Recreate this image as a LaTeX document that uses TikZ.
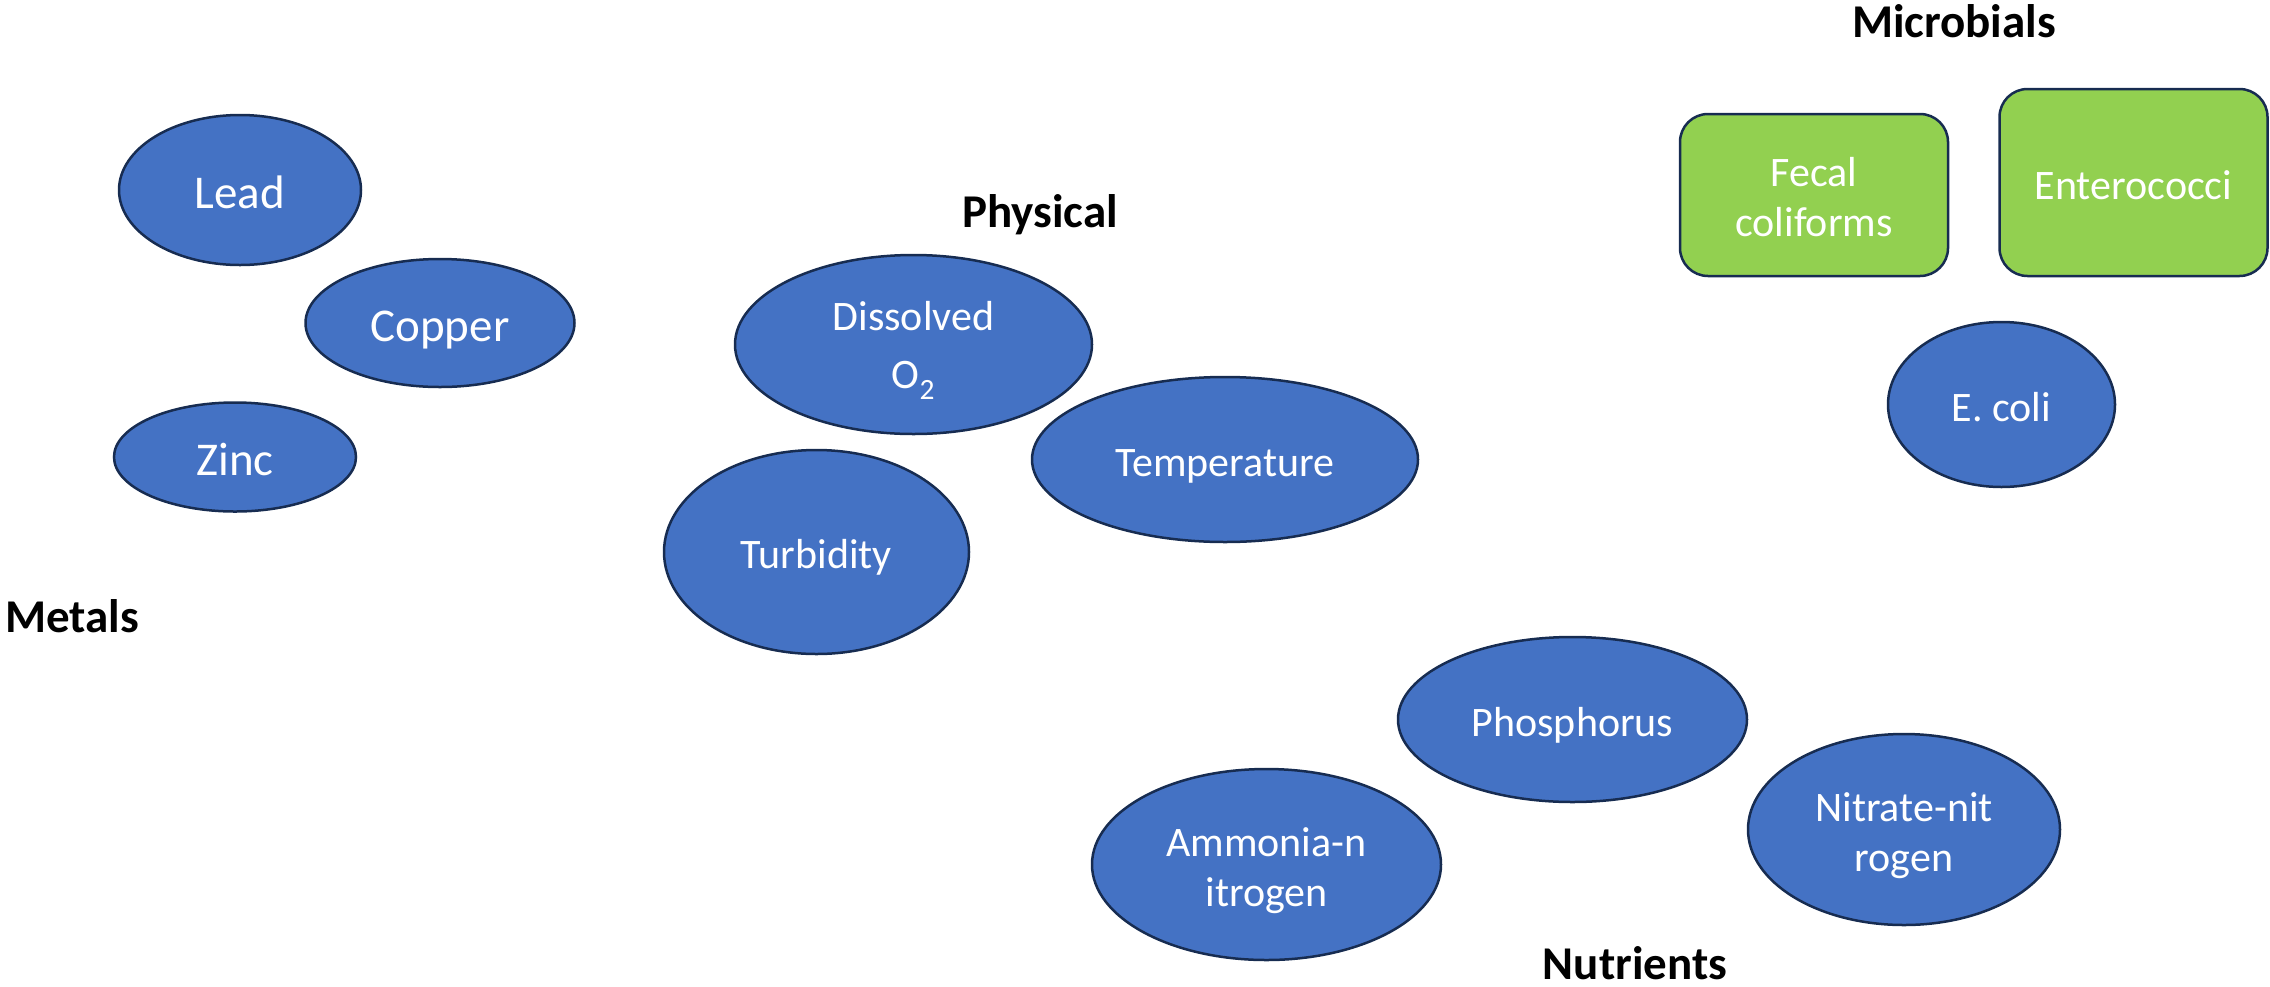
\documentclass[tikz,border=0pt]{standalone}
\usepackage{fontspec}
\setmainfont{Carlito}
\usetikzlibrary{shapes,positioning}
\definecolor{blobfill}{HTML}{4472C4}
\definecolor{blobline}{HTML}{172C51}
\definecolor{cardfill}{HTML}{92D050}
\newcommand{\bstrut}{\rule[-8pt]{0pt}{49pt}}

\begin{document}
\begin{tikzpicture}[x=1pt,y=-1pt,
        blob/.style={ellipse,draw=blobline,fill=blobfill,line width=2.5pt,text=white,
                     inner sep=0pt,align=center,font=\fontsize{42}{50}\selectfont},
        oneline/.style={text height=41pt,text depth=8pt},
        metal/.style={blob,font=\fontsize{47}{56}\selectfont,text height=46pt,text depth=9pt},
        card/.style={rectangle,rounded corners=28pt,draw=blobline,fill=cardfill,
                     line width=2.5pt,text=white,inner sep=0pt,align=center,
                     font=\fontsize{42}{50}\selectfont},
        heading/.style={font=\bfseries\fontsize{47}{56}\selectfont,inner sep=0pt,anchor=base}]

        \useasboundingbox (0,0) rectangle (2270,986);

        \node[metal,minimum width=242pt,minimum height=150pt] (lead)   at (240,190) {Lead};
        \node[metal,minimum width=269pt,minimum height=128pt] (copper) at (440,323) {Copper};
        \node[metal,minimum width=242pt,minimum height=109pt] (zinc)   at (235,457) {Zinc};
        \node[heading] (metals) at (72,632) {Metals};

        \node[blob,minimum width=357pt,minimum height=179pt] (oxygen) at (913.5,344.5)
              {\bstrut Dissolved\\[8pt]O\textsubscript{2}\bstrut};
        \node[blob,oneline,minimum width=386pt,minimum height=165pt] (temp) at (1225,459.5) {Temperature};
        \node[blob,oneline,minimum width=305pt,minimum height=204pt] (turb) at (816.5,552) {Turbidity};
        \node[heading] (physical) at (1040,227) {Physical};

        \node[card,minimum width=268pt,minimum height=162pt] (fecal) at (1814,195)
              {\bstrut Fecal\\coliforms\bstrut};
        \node[card,oneline,minimum width=268pt,minimum height=187pt] (entero) at (2133.5,182.5) {Enterococci};
        \node[blob,oneline,minimum width=227pt,minimum height=165pt] (ecoli) at (2001.5,404.5) {E. coli};
        \node[heading] (microbials) at (1954,37) {Microbials};

        \node[blob,oneline,minimum width=349pt,minimum height=165pt] (phos) at (1572.5,719.5) {Phosphorus};
        \node[blob,minimum width=312pt,minimum height=191pt] (nitrate) at (1904,829.5)
              {\bstrut Nitrate-nit\\rogen\bstrut};
        \node[blob,minimum width=349pt,minimum height=191pt] (ammonia) at (1266.5,864.5)
              {\bstrut Ammonia-n\\itrogen\bstrut};
        \node[heading] (nutrients) at (1635,979) {Nutrients};
\end{tikzpicture}
\end{document}
